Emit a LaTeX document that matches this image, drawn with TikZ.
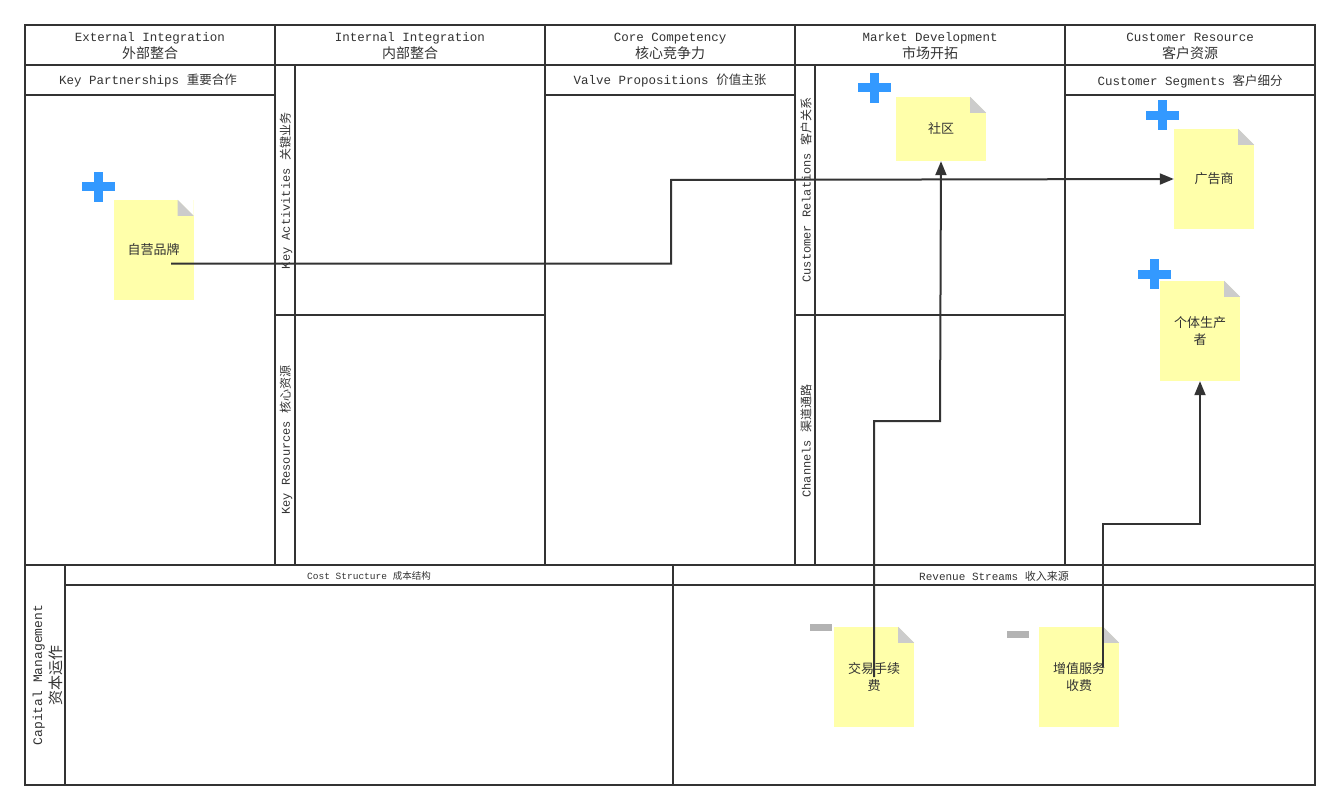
\documentclass[tikz,border=0pt]{standalone}
\usepackage{fontspec}
\setmainfont{Liberation Mono}
\newfontfamily\cjk{Noto Sans CJK SC}
\usetikzlibrary{arrows.meta,positioning}

\definecolor{ink}{HTML}{333333}
\definecolor{stickyyellow}{HTML}{FFFFAA}
\definecolor{foldgray}{HTML}{CCCCCC}
\definecolor{plusblue}{HTML}{3399FF}
\definecolor{minusgray}{HTML}{B3B3B3}

\newcommand\zh[1]{{\cjk #1}}
% folded corner of a sticky note
\newcommand\foldcorner[1]{%
  \fill[white] ([xshift=-16pt]#1.north east) -- (#1.north east) -- ([yshift=-16pt]#1.north east) -- cycle;
  \fill[foldgray] ([xshift=-16pt]#1.north east) -- ([xshift=-16pt,yshift=-16pt]#1.north east) -- ([yshift=-16pt]#1.north east) -- cycle;}
\newcommand\addmark[1]{%
  \fill[plusblue] ([xshift=-16.5pt,yshift=-4.5pt]#1) rectangle ([xshift=16.5pt,yshift=4.5pt]#1);
  \fill[plusblue] ([xshift=-4.5pt,yshift=-15pt]#1) rectangle ([xshift=4.5pt,yshift=15pt]#1);}
\newcommand\submark[1]{%
  \fill[minusgray] ([xshift=-11pt,yshift=-3.5pt]#1) rectangle ([xshift=11pt,yshift=3.5pt]#1);}

\tikzset{
  grid/.style={draw=ink, line width=2pt},
  hdr/.style={align=center, text=ink, font=\fontsize{12.5}{17}\selectfont},
  sub/.style={text=ink, font=\fontsize{12.5}{15}\selectfont},
  side/.style={rotate=90, text=ink, font=\fontsize{12}{14}\selectfont},
  sticky/.style={fill=stickyyellow, minimum width=80pt, minimum height=100pt, inner sep=0pt,
    align=center, text=ink, font=\cjk\fontsize{13}{17}\selectfont},
  link/.style={draw=ink, line width=2pt, -{Triangle[length=14pt,width=11pt]}},
}

\begin{document}
\begin{tikzpicture}[x=1pt, y=-1pt]
  \useasboundingbox (0,0) rectangle (1340,810);

  % canvas grid
  \draw[grid] (25,25) rectangle (1315,785);
  \draw[grid] (25,65) -- (1315,65);
  \foreach \xx in {275,545,795,1065}
    \draw[grid] (\xx,25) -- (\xx,565);
  \draw[grid] (25,95) -- (275,95);
  \draw[grid] (545,95) -- (795,95);
  \draw[grid] (1065,95) -- (1315,95);
  \draw[grid] (295,65) -- (295,565);
  \draw[grid] (815,65) -- (815,565);
  \draw[grid] (275,315) -- (545,315);
  \draw[grid] (795,315) -- (1065,315);
  \draw[grid] (25,565) -- (1315,565);
  \draw[grid] (65,565) -- (65,785);
  \draw[grid] (673,565) -- (673,785);
  \draw[grid] (65,585) -- (1315,585);

  % column headers
  \node[hdr] (ext) at (150,46.5) {External Integration\\{\cjk\fontsize{14}{17}\selectfont 外部整合}};
  \node[hdr] (int) at (410,46.5) {Internal Integration\\{\cjk\fontsize{14}{17}\selectfont 内部整合}};
  \node[hdr] (core) at (670,46.5) {Core Competency\\{\cjk\fontsize{14}{17}\selectfont 核心竞争力}};
  \node[hdr] (mkt) at (930,46.5) {Market Development\\{\cjk\fontsize{14}{17}\selectfont 市场开拓}};
  \node[hdr] (cust) at (1190,46.5) {Customer Resource\\{\cjk\fontsize{14}{17}\selectfont 客户资源}};

  % block titles
  \node[sub] (kp) at (148,81) {Key Partnerships \zh{重要合作}};
  \node[sub] (vp) at (670,81) {Valve Propositions \zh{价值主张}};
  \node[sub] (cs) at (1190,81) {Customer Segments \zh{客户细分}};
  \node[side] (ka) at (286,191) {Key Activities \zh{关键业务}};
  \node[side] (kr) at (286,440) {Key Resources \zh{核心资源}};
  \node[side] (cr) at (806,190) {Customer Relations \zh{客户关系}};
  \node[side] (ch) at (806,441) {Channels \zh{渠道通路}};
  \node[text=ink, font=\fontsize{9.5}{11}\selectfont] (cost) at (369,576) {Cost Structure \zh{成本结构}};
  \node[text=ink, font=\fontsize{11}{12}\selectfont] (rev) at (994,576) {Revenue Streams \zh{收入来源}};
  \node[side, align=center, font=\fontsize{13}{19}\selectfont] (cap) at (47.5,675)
    {Capital Management\\{\cjk\fontsize{15}{19}\selectfont 资本运作}};

  % sticky notes
  \node[sticky] (zy) at (153.5,250) {自营品牌};
  \node[sticky, minimum width=90pt, minimum height=64pt] (sq) at (941,129) {社区};
  \node[sticky] (gg) at (1214,179) {广告商};
  \node[sticky] (gt) at (1200,331) {个体生产\\者};
  \node[sticky] (jy) at (874,677) {交易手续\\费};
  \node[sticky] (zz) at (1079,677) {增值服务\\收费};
  \foreach \n in {zy,sq,gg,gt,jy,zz}
    \foldcorner{\n};

  % markers
  \coordinate (p1) at (98.5,187);
  \coordinate (p2) at (874,88);
  \coordinate (p3) at (1162.5,115.5);
  \coordinate (p4) at (1154,274);
  \coordinate (m1) at (820.5,627.5);
  \coordinate (m2) at (1018,634.5);
  \foreach \p in {p1,p2,p3,p4}
    \addmark{\p};
  \submark{m1}
  \submark{m2}

  % links
  \coordinate (b1) at (671,180);
  \coordinate (b2) at (940,421);
  \coordinate (b3) at (1200,524);
  \draw[link] ([xshift=17.5pt,yshift=-13.5pt]zy.center) -| (b1) -- (gg.west);
  \draw[link] (jy.center) |- (b2) -- (sq.south);
  \draw[link] ([xshift=24pt,yshift=10pt]zz.center) |- (b3) -- (gt.south);
\end{tikzpicture}
\end{document}
